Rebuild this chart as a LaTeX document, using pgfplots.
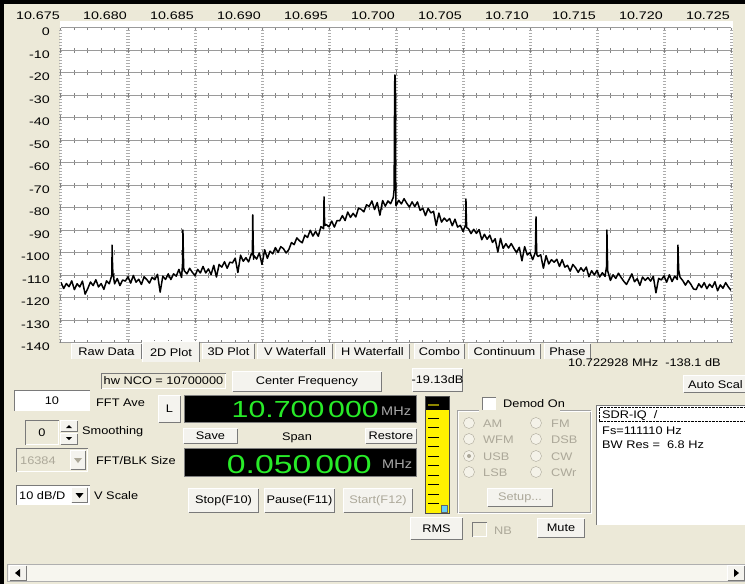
\documentclass[border=0pt]{standalone}
\usepackage{fontspec}
\setmainfont{Liberation Sans}[FakeStretch=1.16]
\newfontfamily\tickfam{Liberation Sans}[FakeStretch=1.3]
\usepackage{pgfplots}
\pgfplotsset{compat=1.18}
\usepackage{pgfplotstable}
\definecolor{winbg}{HTML}{ECE9D8}
\definecolor{btnface}{HTML}{F4F3EE}
\definecolor{btndark}{HTML}{7A7A7A}
\definecolor{lcdgreen}{RGB}{40,235,40}
\definecolor{lcdgray}{HTML}{A8A8A8}
\definecolor{gridh}{HTML}{9A9A9A}
\definecolor{gridv}{HTML}{ADADAD}
\definecolor{disabled}{HTML}{ACA899}
\newcommand{\gui}{\fontsize{11}{13}\selectfont}
\newcommand{\tickfont}{\tickfam\fontsize{11}{13}\selectfont}
% offset from 10.700 MHz in kHz, level in dB
\pgfplotstableread{
x y
-25.0 -113.3
-24.8 -116.0
-24.6 -113.8
-24.4 -115.2
-24.2 -112.6
-24.0 -116.5
-23.8 -113.9
-23.6 -115.3
-23.4 -112.7
-23.2 -118.5
-23.0 -116.0
-22.8 -113.1
-22.6 -114.7
-22.4 -112.1
-22.2 -115.3
-22.0 -113.8
-21.8 -116.4
-21.6 -112.6
-21.4 -113.9
-21.2 -110.0
-21.19 -96.7
-21.16 -104.0
-21.13 -109.0
-21.0 -113.9
-20.8 -111.6
-20.6 -114.7
-20.4 -112.2
-20.2 -112.7
-20.0 -110.8
-19.8 -113.6
-19.6 -110.2
-19.4 -113.2
-19.2 -111.9
-19.0 -114.2
-18.8 -110.8
-18.6 -112.0
-18.4 -113.6
-18.2 -111.0
-18.0 -112.1
-17.8 -109.7
-17.6 -117.6
-17.4 -110.5
-17.2 -112.0
-17.0 -109.5
-16.8 -112.0
-16.6 -109.5
-16.4 -110.5
-16.2 -107.5
-16.0 -111.1
-15.92 -104.0
-15.90 -90.0
-15.87 -100.0
-15.84 -107.0
-15.8 -108.1
-15.6 -109.5
-15.4 -107.0
-15.2 -108.8
-15.0 -110.3
-14.8 -107.5
-14.6 -109.1
-14.4 -106.2
-14.2 -109.1
-14.0 -107.3
-13.8 -109.8
-13.6 -105.7
-13.4 -110.9
-13.2 -105.3
-13.0 -106.5
-12.8 -104.1
-12.6 -107.0
-12.4 -104.3
-12.2 -104.6
-12.0 -102.5
-11.8 -108.9
-11.6 -101.2
-11.4 -103.9
-11.2 -102.3
-11.0 -104.2
-10.8 -100.6
-10.72 -101.0
-10.69 -83.3
-10.66 -95.0
-10.63 -103.0
-10.6 -101.4
-10.4 -102.9
-10.2 -100.2
-10.0 -105.3
-9.8 -98.8
-9.6 -102.6
-9.4 -99.4
-9.2 -100.6
-9.0 -97.8
-8.8 -100.0
-8.6 -97.4
-8.4 -98.3
-8.2 -100.2
-8.0 -98.7
-7.8 -95.6
-7.6 -96.5
-7.4 -93.5
-7.2 -94.8
-7.0 -95.7
-6.8 -92.3
-6.6 -93.3
-6.4 -90.1
-6.2 -92.7
-6.0 -90.6
-5.8 -92.8
-5.6 -88.5
-5.4 -89.4
-5.37 -75.3
-5.34 -84.0
-5.31 -88.0
-5.2 -87.6
-5.0 -88.6
-4.8 -86.0
-4.6 -88.7
-4.4 -85.8
-4.2 -85.9
-4.0 -83.6
-3.8 -85.8
-3.6 -82.0
-3.4 -84.4
-3.2 -82.6
-3.0 -84.2
-2.8 -80.3
-2.6 -80.8
-2.4 -81.9
-2.2 -78.8
-2.0 -79.5
-1.8 -77.1
-1.6 -80.9
-1.4 -77.8
-1.2 -83.4
-1.0 -76.9
-0.8 -79.4
-0.6 -77.1
-0.4 -78.3
-0.2 -75.5
-0.14 -72.0
-0.10 -25.0
-0.08 -21.1
-0.06 -22.0
-0.04 -26.0
-0.02 -68.0
0.0 -79.2
0.2 -76.8
0.4 -78.4
0.6 -76.1
0.8 -78.1
1.0 -79.8
1.2 -77.5
1.4 -79.6
1.6 -77.5
1.8 -81.3
2.0 -80.3
2.2 -83.6
2.4 -80.4
2.6 -82.4
2.8 -81.7
3.0 -88.0
3.2 -82.5
3.4 -86.5
3.6 -84.7
3.8 -86.1
4.0 -84.9
4.2 -88.1
4.4 -85.2
4.6 -88.7
4.8 -87.9
5.0 -90.6
5.2 -87.7
5.22 -76.2
5.25 -85.0
5.28 -89.0
5.4 -89.4
5.6 -91.6
5.8 -89.7
6.0 -91.5
6.2 -89.8
6.4 -94.3
6.6 -91.9
6.8 -94.1
7.0 -92.3
7.2 -95.5
7.4 -93.9
7.6 -99.8
7.8 -93.7
8.0 -98.2
8.2 -96.1
8.4 -98.0
8.6 -96.0
8.8 -98.2
9.0 -100.1
9.2 -97.7
9.4 -103.7
9.6 -97.4
9.8 -101.1
10.0 -100.0
10.2 -103.2
10.4 -99.9
10.45 -84.2
10.48 -95.0
10.51 -101.0
10.6 -101.8
10.8 -101.0
11.0 -107.0
11.2 -101.4
11.4 -105.1
11.6 -103.2
11.8 -104.3
12.0 -103.0
12.2 -106.2
12.4 -103.2
12.6 -106.5
12.8 -105.7
13.0 -108.3
13.2 -105.3
13.4 -106.8
13.6 -108.8
13.8 -106.8
14.0 -108.4
14.2 -106.5
14.4 -110.8
14.6 -108.1
14.8 -110.0
15.0 -107.9
15.2 -110.9
15.4 -109.0
15.6 -110.6
15.72 -106.0
15.74 -90.0
15.77 -100.0
15.8 -108.2
16.0 -112.4
16.2 -109.9
16.4 -111.5
16.6 -109.2
16.8 -111.1
17.0 -112.8
17.2 -114.2
17.4 -111.9
17.6 -109.5
17.8 -113.0
18.0 -111.6
18.2 -114.6
18.4 -110.9
18.6 -112.4
18.8 -111.1
19.0 -112.7
19.2 -110.6
19.4 -117.9
19.6 -111.5
19.8 -112.2
20.0 -110.4
20.2 -113.2
20.4 -109.9
20.6 -112.9
20.8 -110.5
21.0 -112.0
21.03 -104.0
21.04 -96.7
21.07 -103.0
21.10 -108.0
21.2 -111.0
21.4 -112.5
21.6 -114.5
21.8 -112.5
22.0 -114.1
22.2 -116.2
22.4 -116.5
22.6 -113.9
22.8 -115.6
23.0 -113.4
23.2 -116.1
23.4 -114.1
23.6 -115.5
23.8 -113.0
24.0 -117.0
24.2 -114.4
24.4 -115.9
24.6 -113.4
24.8 -115.3
25.0 -116.8
}\spectrum
% GUI helpers (coordinates in screen pixels, y downward)
\newcommand{\btn}[5]{%
  \fill[btnface] (#1,#2) rectangle (#3,#4);
  \draw[white,line width=1pt] (#1+0.5,#4-1) -- (#1+0.5,#2+0.5) -- (#3-1,#2+0.5);
  \draw[btndark,line width=1pt] (#1+0.5,#4-0.5) -- (#3-0.5,#4-0.5) -- (#3-0.5,#2+0.5);
  \node[font=\gui,inner sep=0pt] at ({(#1+#3)/2},{(#2+#4)/2}) {#5};}
\newcommand{\sunken}[5]{%
  \fill[#5] (#1,#2) rectangle (#3,#4);
  \draw[btndark,line width=1pt] (#1+0.5,#4-0.5) -- (#1+0.5,#2+0.5) -- (#3-0.5,#2+0.5);
  \draw[white,line width=1pt] (#1+0.5,#4-0.5) -- (#3-0.5,#4-0.5) -- (#3-0.5,#2+0.5);}
\newcommand{\tabx}[3]{%
  \fill[btnface] (#1,343) rectangle (#2,359);
  \draw[white,line width=1pt] (#1+0.5,359) -- (#1+0.5,343.5) -- (#2-1,343.5);
  \draw[btndark,line width=1pt] (#2-0.5,344) -- (#2-0.5,359);
  \node[font=\gui,inner sep=0pt] at ({(#1+#2)/2},351.5) {#3};}
\newcommand{\lbl}[3]{\node[font=\gui,inner sep=0pt,anchor=base west] at (#1,#2) {#3};}
\begin{document}
\begin{tikzpicture}
\useasboundingbox (0pt,0pt) rectangle (745pt,-584pt);
\clip (0pt,0pt) rectangle (745pt,-584pt);
\begin{scope}[x=1pt,y=-1pt]
  \fill[winbg] (0,0) rectangle (745,584);
  \fill[white] (60,21) rectangle (733,343);
\end{scope}
\begin{axis}[
  at={(61pt,-342.5pt)}, anchor=south west,
  scale only axis, width=670pt, height=315pt,
  xmin=-25, xmax=25, ymin=-140, ymax=0,
  xtick={-25,-20,-15,-10,-5,0,5,10,15,20,25},
  xticklabels={10.675,10.680,10.685,10.690,10.695,10.700,10.705,10.710,10.715,10.720,10.725},
  ytick={-140,-130,-120,-110,-100,-90,-80,-70,-60,-50,-40,-30,-20,-10,0},
  yticklabels={-140,-130,-120,-110,-100,-90,-80,-70,-60,-50,-40,-30,-20,-10,0},
  minor x tick num=4,
  grid=both,
  major x grid style={gridv, line width=3pt, dash pattern=on 1pt off 2pt},
  minor x grid style={gridh!85!black, line width=1pt, dash pattern=on 5pt off 17.5pt, dash phase=2.5pt},
  major y grid style={gridh, line width=1pt},
  major tick length=0pt, minor tick length=0pt,
  axis line style={draw=none},
  xticklabel pos=right,
  xticklabel style={anchor=base east, inner sep=0pt, yshift=8pt, xshift=-1pt, font=\tickfont},
  yticklabel style={anchor=base east, inner sep=0pt, yshift=-8.3pt, xshift=-11pt, font=\tickfont},
  extra x ticks={-25,-20,-15,-10,-5,0,5,10,15,20,25},
  extra x tick labels={},
  extra x tick style={grid=major, major x grid style={gridh!85!black, line width=1pt, dash pattern=on 5pt off 17.5pt, dash phase=2.5pt}},
]
\addplot[black, line width=1.5pt, line join=round] table[x=x,y=y] {\spectrum};
\end{axis}
\begin{scope}[x=1pt,y=-1pt]
  % window borders
  \fill[black] (0,0) rectangle (745,4);
  \fill[black] (0,0) rectangle (3.5,584);
  % tabs
  \tabx{71}{142}{Raw Data}
  \tabx{202}{255}{3D Plot}
  \tabx{257}{333}{V Waterfall}
  \tabx{335}{410}{H Waterfall}
  \tabx{414}{465}{Combo}
  \tabx{468}{541}{Continuum}
  \tabx{544}{591}{Phase}
  \fill[btnface] (142,341) rectangle (200,362);
  \draw[white,line width=1pt] (142.5,362) -- (142.5,341.5) -- (199,341.5);
  \draw[btndark,line width=1pt] (199.5,342) -- (199.5,362);
  \node[font=\gui,inner sep=0pt] at (171,353) {2D Plot};
  \lbl{568}{366}{10.722928 MHz\ \ -138.1 dB}
  % top row
  \sunken{101}{373}{226}{389}{winbg}
  \node[font=\gui,inner sep=0pt] at (163.5,381) {hw NCO = 10700000};
  \btn{232}{371}{382}{392}{Center Frequency}
  \btn{412}{368}{463}{392}{-19.13dB}
  \btn{683}{375}{760}{393}{}
  \lbl{688}{388}{Auto Scal}
  % left controls
  \sunken{14}{390}{90}{411}{white}
  \node[font=\gui,inner sep=0pt] at (52,400.5) {10};
  \lbl{96}{406}{FFT Ave}
  \sunken{25}{420}{59}{445}{winbg}
  \node[font=\gui,inner sep=0pt] at (42,432.5) {0};
  \btn{60}{420}{78}{432}{}
  \btn{60}{433}{78}{445}{}
  \fill[black] (66,428) -- (72,428) -- (69,425) -- cycle;
  \fill[black] (66,437) -- (72,437) -- (69,440) -- cycle;
  \lbl{82}{434}{Smoothing}
  \sunken{16}{448}{88}{472}{winbg}
  \node[font=\gui,inner sep=0pt,anchor=base west,text=disabled] at (20,464) {16384};
  \btn{70}{450}{86}{470}{}
  \fill[disabled] (74,458) -- (82,458) -- (78,463) -- cycle;
  \lbl{96}{464}{FFT/BLK Size}
  \sunken{16}{485}{90}{505}{white}
  \node[font=\gui,inner sep=0pt,anchor=base west] at (19,499) {10 dB/D};
  \btn{71}{487}{88}{503}{}
  \fill[black] (75.5,493) -- (83.5,493) -- (79.5,498) -- cycle;
  \lbl{94}{499}{V Scale}
  % frequency displays
  \btn{158}{395}{181}{423}{L}
  \fill[black] (184,395) rectangle (417,423);
  \draw[gray] (184.5,395.5) rectangle (416.5,422.5);
  \node[anchor=base east,inner sep=0pt,text=lcdgreen,font=\tickfam\fontsize{23.3}{24}\selectfont] at (379,417) {10.700\,000};
  \node[anchor=base west,inner sep=0pt,text=lcdgray,font=\fontsize{12.5}{13}\selectfont] at (381,415) {MHz};
  \btn{183}{428}{238}{444}{Save}
  \node[font=\gui,inner sep=0pt] at (297,438) {Span};
  \btn{365}{428}{417}{444}{Restore}
  \fill[black] (184,448) rectangle (417,477);
  \draw[gray] (184.5,448.5) rectangle (416.5,476.5);
  \node[anchor=base east,inner sep=0pt,text=lcdgreen,font=\tickfam\fontsize{26}{27}\selectfont] at (372,473.5) {0.050\hspace{4pt}000};
  \node[anchor=base west,inner sep=0pt,text=lcdgray,font=\fontsize{12.5}{13}\selectfont] at (382,468.5) {MHz};
  \btn{188}{488}{259}{513}{Stop(F10)}
  \btn{264}{488}{335}{513}{Pause(F11)}
  \btn{343}{488}{413}{513}{\textcolor{disabled}{Start(F12)}}
  % level meter
  \fill[black] (426,397) rectangle (449,410);
  \fill[yellow] (426,410) rectangle (449,513);
  \draw[black!70] (425.5,396.5) rectangle (449.5,513.5);
  \draw[olive, line width=1.5pt] (428,405) -- (439,405);
  \foreach \yy in {418,427.5,437,446.5,456,465.5,475,484.5,494,503.5}
    \draw[black, line width=1pt] (428,\yy) -- (439,\yy);
  \fill[cyan!60] (441,505) rectangle (447,512);
  \draw[black!60] (441,505) rectangle (447,512);
  % demod group
  \draw[btndark!70] (457.5,410.5) rectangle (590.5,512.5);
  \draw[white] (458.5,411.5) rectangle (591.5,513.5);
  \fill[winbg] (479,400) rectangle (560,412);
  \sunken{482}{397}{496}{410}{white}
  \lbl{503}{407}{Demod On}
  \foreach \yy/\la/\lb in {423/AM/FM,439/WFM/DSB,456/USB/CW,472/LSB/CWr}{
    \draw[disabled, fill=white!40!winbg] (469,\yy) circle (5.5);
    \draw[disabled, fill=white!40!winbg] (536,\yy) circle (5.5);
    \node[font=\gui,inner sep=0pt,anchor=base west,text=disabled] at (483,\yy+4) {\la};
    \node[font=\gui,inner sep=0pt,anchor=base west,text=disabled] at (551,\yy+4) {\lb};
  }
  \fill[disabled] (469,456) circle (2);
  \btn{487}{488}{553}{507}{\textcolor{disabled}{Setup...}}
  % info list
  \sunken{596}{405}{760}{525}{white}
  \draw[black, densely dotted] (599.5,407.5) rectangle (760,421.5);
  \lbl{602}{418}{SDR-IQ\ \ /}
  \lbl{602}{434}{Fs=111110 Hz}
  \lbl{602}{448}{BW Res =\ \ 6.8 Hz}
  % bottom buttons
  \btn{410}{517}{463}{540}{RMS}
  \sunken{472}{522}{487}{537}{winbg}
  \node[font=\gui,inner sep=0pt,anchor=base west,text=disabled] at (494,534) {NB};
  \btn{537}{518}{585}{538}{Mute}
  % scrollbar
  \fill[white!60!winbg] (7,564) rectangle (745,582);
  \draw[btndark!60] (7.5,564.5) rectangle (746,581.5);
  \btn{9}{565}{27}{581}{}
  \fill[black] (15,573) -- (20,569) -- (20,577) -- cycle;
  \btn{727}{565}{745}{581}{}
  \fill[black] (739,573) -- (734,569) -- (734,577) -- cycle;
\end{scope}
\end{tikzpicture}
\end{document}
